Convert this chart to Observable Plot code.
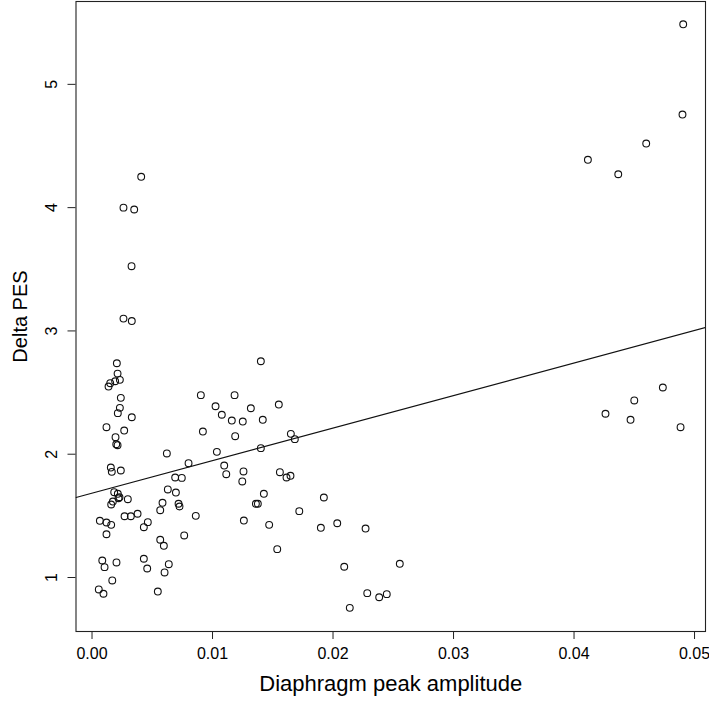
<!DOCTYPE html>
<html>
<head>
<meta charset="utf-8">
<script src="https://cdn.jsdelivr.net/npm/d3@7"></script>
<script src="https://cdn.jsdelivr.net/npm/@observablehq/plot@0.6"></script>
<style>
  html, body { margin: 0; padding: 0; background: #fff; }
  #chart svg { display: block; font-family: "Liberation Sans", Arial, sans-serif; }
</style>
</head>
<body>
<div id="chart"></div>
<script>
// Diaphragm peak amplitude (x) vs Delta PES (y)
const amplitude = [
  0.00408, 0.00261, 0.00350, 0.00328, 0.00261, 0.00330,
  0.00206, 0.00212, 0.00192, 0.00231, 0.00151, 0.00137, 0.00239, 0.00231, 0.00214, 0.00330,
  0.00120, 0.00267, 0.00195, 0.00201, 0.00212, 0.00621, 0.00801, 0.00156, 0.00164, 0.00239,
  0.00690, 0.00745,
  0.00184, 0.00214, 0.00228, 0.00220, 0.00173, 0.00159, 0.00297, 0.00629, 0.00696, 0.00585,
  0.00566, 0.00718, 0.00726, 0.00861, 0.00270, 0.00322, 0.00378, 0.00463, 0.00430, 0.00065,
  0.00120, 0.00159, 0.00120, 0.00765, 0.00566, 0.00596, 0.00085, 0.00104, 0.00203, 0.00430,
  0.00458, 0.00637, 0.00602, 0.00168, 0.00056, 0.00095, 0.00546,
  0.01401, 0.00903, 0.01183, 0.01025, 0.01550, 0.01077, 0.01318, 0.01160, 0.01251, 0.01417,
  0.00920, 0.01188, 0.01650, 0.01683, 0.01401, 0.01036, 0.01097, 0.01114, 0.01257, 0.01559,
  0.01614, 0.01647,
  0.01247, 0.01426, 0.01360, 0.01376, 0.01924, 0.01260, 0.01470, 0.01720, 0.01899, 0.02035,
  0.02270, 0.01537, 0.02093, 0.02554, 0.02284, 0.02383, 0.02446, 0.02139,
  0.04906, 0.04900, 0.04599, 0.04115, 0.04367,
  0.04737, 0.04500, 0.04261, 0.04469, 0.04884
];
const deltaPES = [
  4.25, 4.00, 3.985, 3.525, 3.10, 3.08,
  2.738, 2.654, 2.592, 2.603, 2.576, 2.549, 2.457, 2.376, 2.333, 2.300,
  2.219, 2.192, 2.138, 2.081, 2.073, 2.006, 1.927, 1.892, 1.857, 1.868,
  1.811, 1.808,
  1.692, 1.679, 1.651, 1.643, 1.616, 1.592, 1.635, 1.714, 1.689, 1.606,
  1.546, 1.598, 1.576, 1.500, 1.497, 1.497, 1.517, 1.449, 1.408, 1.460,
  1.446, 1.427, 1.351, 1.341, 1.306, 1.257, 1.138, 1.084, 1.122, 1.152,
  1.073, 1.108, 1.041, 0.976, 0.903, 0.868, 0.886,
  2.754, 2.479, 2.479, 2.389, 2.403, 2.320, 2.373, 2.273, 2.265, 2.279,
  2.184, 2.146, 2.165, 2.122, 2.049, 2.019, 1.908, 1.838, 1.860, 1.854,
  1.811, 1.825,
  1.779, 1.679, 1.598, 1.598, 1.649, 1.462, 1.427, 1.538, 1.403, 1.440,
  1.397, 1.230, 1.087, 1.111, 0.873, 0.840, 0.865, 0.754,
  5.487, 4.755, 4.520, 4.388, 4.271,
  2.541, 2.436, 2.328, 2.279, 2.219
];
// fitted regression line
const fitIntercept = 1.684;
const fitSlope = 26.4;

const xTicks = [0, 0.01, 0.02, 0.03, 0.04, 0.05];
const yTicks = [1, 2, 3, 4, 5];
const xLabel = "Diaphragm peak amplitude";
const yLabel = "Delta PES";

const points = amplitude.map((a, i) => ({x: a, y: deltaPES[i]}));
const xDomain = [-0.00133, 0.05091];
const yDomain = [0.562, 5.672];
const fitLine = xDomain.map(x => ({x, y: fitIntercept + fitSlope * x}));

const chart = Plot.plot({
  width: 709,
  height: 701,
  marginTop: 1,
  marginBottom: 70,
  marginLeft: 75.5,
  marginRight: 4,
  style: {fontFamily: '"Liberation Sans", Arial, sans-serif', background: "#fff", color: "#000"},
  x: {domain: xDomain, ticks: xTicks},
  y: {domain: yDomain, ticks: yTicks},
  marks: [
    Plot.frame({stroke: "#222", strokeWidth: 1.1}),
    Plot.axisX(xTicks, {tickSize: 8, tickPadding: 8, tickFormat: d3.format(".2f"), fontSize: 16, label: null, stroke: "#222"}),
    Plot.axisY(yTicks, {tickSize: 8, tickFormat: () => "", label: null, stroke: "#222"}),
    Plot.text(yTicks, {y: d => d, text: d => String(d), frameAnchor: "left", textAnchor: "middle", dx: -24, rotate: -90, fontSize: 16, fill: "#000"}),
    Plot.text([xLabel], {frameAnchor: "bottom", lineAnchor: "middle", textAnchor: "middle", dy: 52, fontSize: 22, fill: "#000"}),
    Plot.text([yLabel], {frameAnchor: "left", textAnchor: "middle", lineAnchor: "middle", dx: -55, rotate: -90, fontSize: 20, fill: "#000"}),
    Plot.line(fitLine, {x: "x", y: "y", stroke: "#111", strokeWidth: 1.2, clip: true}),
    Plot.dot(points, {x: "x", y: "y", r: 3.4, stroke: "#111", strokeWidth: 1.1, fill: "none"})
  ]
});
document.getElementById("chart").appendChild(chart);
</script>
</body>
</html>
